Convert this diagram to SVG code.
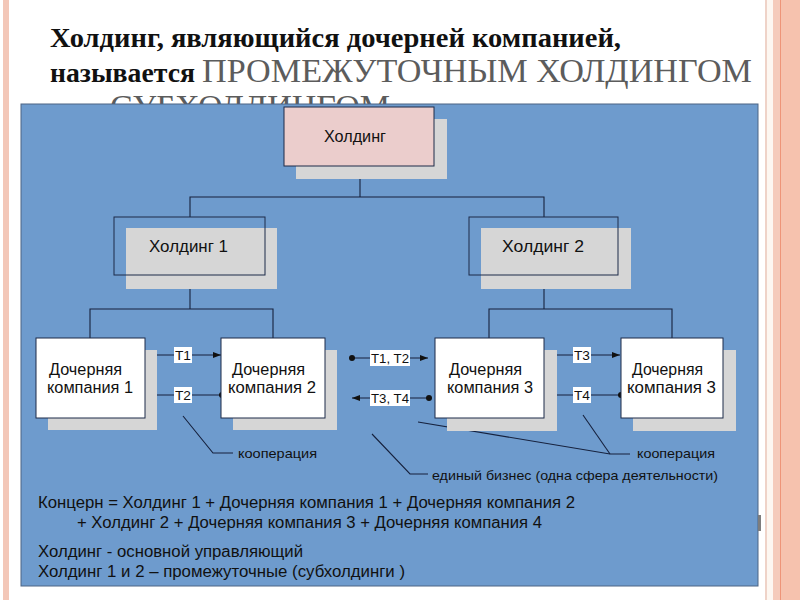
<svg xmlns="http://www.w3.org/2000/svg" width="800" height="600" viewBox="0 0 800 600">
<defs>
<style>
.ttl{font-weight:bold;font-size:28px;fill:#111}
.big{font-size:33px;fill:#5c5c5c}
.lbl{font-family:"Liberation Sans",Arial,sans-serif;font-size:16px;fill:#111}
.sm{font-family:"Liberation Sans",Arial,sans-serif;font-size:13.5px;fill:#111}
.tl{font-family:"Liberation Sans",Arial,sans-serif;font-size:13px;fill:#111}
.box{stroke:#1c2a48;stroke-width:1}
.sh{fill:#d6d6d6}
.ln{stroke:#16213d;stroke-width:1.1;fill:none}
.tbg{fill:#ffffff}
.dot{fill:#111}
</style>
<marker id="ah" viewBox="0 0 8 6" refX="8" refY="3" markerWidth="8" markerHeight="6" markerUnits="userSpaceOnUse" orient="auto">
<path d="M0,0 L8,3 L0,6 z" fill="#111"/>
</marker>
</defs>
<rect width="800" height="600" fill="#ffffff"/>
<rect x="3" y="0" width="6" height="600" fill="#f3c7b8"/>
<rect x="765" y="0" width="2" height="600" fill="#efd3c8"/>
<rect x="767" y="0" width="6" height="600" fill="#fdf7f1"/>
<rect x="773" y="0" width="27" height="600" fill="#f6c2ae"/>
<rect x="773" y="0" width="7" height="600" fill="#f5cbbb"/>
<rect x="780" y="0" width="1" height="600" fill="#ee9478"/>

<g font-family="'Liberation Serif', 'DejaVu Serif', serif">
<text class="ttl" x="50" y="47" textLength="571" lengthAdjust="spacingAndGlyphs">Холдинг, являющийся дочерней компанией,</text>
<text class="ttl" x="50" y="82" textLength="145" lengthAdjust="spacingAndGlyphs">называется</text>
<text class="big" x="202" y="82" textLength="550" lengthAdjust="spacingAndGlyphs">ПРОМЕЖУТОЧНЫМ ХОЛДИНГОМ</text>
<text class="big" x="110" y="118" textLength="280" lengthAdjust="spacingAndGlyphs">СУБХОЛДИНГОМ</text>
</g>

<rect x="21" y="104" width="737" height="482" fill="#6e9bcd" stroke="#4d6584" stroke-width="1"/>
<rect x="758" y="515" width="3" height="16" fill="#7d7d7d"/>

<g id="connectors">
<polyline class="ln" points="360,166 360,197"/>
<polyline class="ln" points="190,217 190,197 544,197 544,217"/>
<polyline class="ln" points="190,275 190,309"/>
<polyline class="ln" points="90,338 90,309 273,309 273,338"/>
<polyline class="ln" points="544,275 544,309"/>
<polyline class="ln" points="489,338 489,309 672,309 672,338"/>
<line class="ln" x1="145" y1="355" x2="221" y2="355" marker-end="url(#ah)"/>
<circle class="dot" cx="146" cy="355" r="3"/>
<line class="ln" x1="222" y1="395" x2="145" y2="395" marker-end="url(#ah)"/>
<circle class="dot" cx="222" cy="395" r="3"/>
<line class="ln" x1="352" y1="358" x2="428" y2="358" marker-end="url(#ah)"/>
<circle class="dot" cx="352" cy="358" r="3"/>
<line class="ln" x1="429" y1="398" x2="352" y2="398" marker-end="url(#ah)"/>
<circle class="dot" cx="429" cy="398" r="3"/>
<line class="ln" x1="544" y1="355" x2="620" y2="355" marker-end="url(#ah)"/>
<circle class="dot" cx="545" cy="355" r="3"/>
<line class="ln" x1="621" y1="395" x2="545" y2="395" marker-end="url(#ah)"/>
<circle class="dot" cx="621" cy="395" r="3"/>
<polyline class="ln" points="183,416 213,453 233,453"/>
<polyline class="ln" points="418,422 610,454 630,454"/>
<line class="ln" x1="583" y1="415" x2="610" y2="454"/>
<polyline class="ln" points="372,434 410,474 428,474"/>
</g>

<g id="labels">
<rect class="tbg" x="174" y="347" width="18" height="16"/>
<text class="tl" x="175" y="360" textLength="16" lengthAdjust="spacingAndGlyphs">T1</text>
<rect class="tbg" x="174" y="387" width="18" height="16"/>
<text class="tl" x="175" y="400" textLength="16" lengthAdjust="spacingAndGlyphs">T2</text>
<rect class="tbg" x="370" y="350" width="40" height="16"/>
<text class="tl" x="371" y="363" textLength="38" lengthAdjust="spacingAndGlyphs">T1, T2</text>
<rect class="tbg" x="370" y="390" width="40" height="16"/>
<text class="tl" x="371" y="403" textLength="38" lengthAdjust="spacingAndGlyphs">T3, T4</text>
<rect class="tbg" x="573" y="347" width="18" height="16"/>
<text class="tl" x="574" y="360" textLength="16" lengthAdjust="spacingAndGlyphs">T3</text>
<rect class="tbg" x="573" y="387" width="18" height="16"/>
<text class="tl" x="574" y="400" textLength="16" lengthAdjust="spacingAndGlyphs">T4</text>
<text class="sm" x="238" y="458" textLength="79" lengthAdjust="spacingAndGlyphs">кооперация</text>
<text class="sm" x="637" y="458" textLength="78" lengthAdjust="spacingAndGlyphs">кооперация</text>
<text class="sm" x="432" y="480" textLength="286" lengthAdjust="spacingAndGlyphs">единый бизнес (одна сфера деятельности)</text>
</g>

<g id="holding">
<rect class="sh" x="296" y="119" width="151" height="60"/>
<rect class="box" x="284" y="107" width="150" height="59" fill="#ebcdcc"/>
<text class="lbl" x="324" y="142" textLength="62" lengthAdjust="spacingAndGlyphs">Холдинг</text>
</g>
<g id="holding1">
<rect class="sh" x="126" y="228" width="151" height="61"/>
<rect class="box" x="114" y="217" width="151" height="58" fill="none"/>
<text class="lbl" x="149" y="252" textLength="79" lengthAdjust="spacingAndGlyphs">Холдинг 1</text>
</g>
<g id="holding2">
<rect class="sh" x="481" y="228" width="150" height="61"/>
<rect class="box" x="469" y="217" width="149" height="58" fill="none"/>
<text class="lbl" x="502" y="252" textLength="82" lengthAdjust="spacingAndGlyphs">Холдинг 2</text>
</g>
<g id="daughter1">
<rect class="sh" x="48" y="350" width="109" height="80"/>
<rect class="box" x="36" y="338" width="109" height="80" fill="#ffffff"/>
<text class="lbl" x="49" y="375" textLength="73" lengthAdjust="spacingAndGlyphs">Дочерняя</text>
<text class="lbl" x="47" y="393" textLength="86" lengthAdjust="spacingAndGlyphs">компания 1</text>
</g>
<g id="daughter2">
<rect class="sh" x="233" y="350" width="104" height="80"/>
<rect class="box" x="221" y="338" width="104" height="80" fill="#ffffff"/>
<text class="lbl" x="232" y="375" textLength="73" lengthAdjust="spacingAndGlyphs">Дочерняя</text>
<text class="lbl" x="228" y="393" textLength="88" lengthAdjust="spacingAndGlyphs">компания 2</text>
</g>
<g id="daughter3">
<rect class="sh" x="447" y="350" width="110" height="81"/>
<rect class="box" x="435" y="338" width="109" height="80" fill="#ffffff"/>
<text class="lbl" x="449" y="375" textLength="73" lengthAdjust="spacingAndGlyphs">Дочерняя</text>
<text class="lbl" x="447" y="393" textLength="86" lengthAdjust="spacingAndGlyphs">компания 3</text>
</g>
<g id="daughter4">
<rect class="sh" x="633" y="350" width="103" height="81"/>
<rect class="box" x="621" y="338" width="102" height="80" fill="#ffffff"/>
<text class="lbl" x="632" y="375" textLength="71" lengthAdjust="spacingAndGlyphs">Дочерняя</text>
<text class="lbl" x="627" y="393" textLength="89" lengthAdjust="spacingAndGlyphs">компания 3</text>
</g>

<g id="notes">
<text class="lbl" x="38" y="508" textLength="537" lengthAdjust="spacingAndGlyphs">Концерн = Холдинг 1 + Дочерняя компания 1 + Дочерняя компания 2</text>
<text class="lbl" x="77" y="528" textLength="465" lengthAdjust="spacingAndGlyphs">+ Холдинг 2 + Дочерняя компания 3 + Дочерняя компания 4</text>
<text class="lbl" x="38" y="557" textLength="265" lengthAdjust="spacingAndGlyphs">Холдинг - основной управляющий</text>
<text class="lbl" x="38" y="577" textLength="367" lengthAdjust="spacingAndGlyphs">Холдинг 1 и 2 – промежуточные (субхолдинги )</text>
</g>
</svg>
